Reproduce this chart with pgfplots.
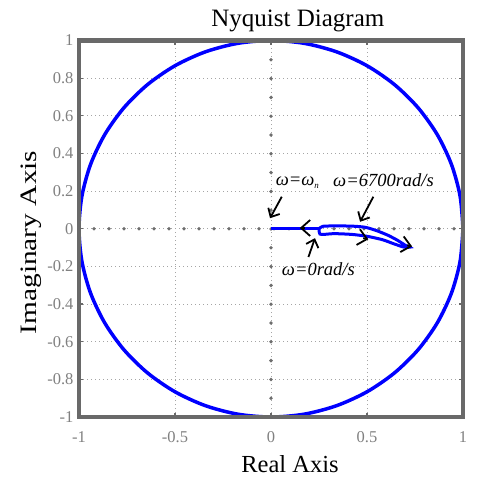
\documentclass[border=0pt]{standalone}
\usepackage{pgfplots}
\pgfplotsset{compat=1.18}
\usepackage{fontspec}
\setmainfont{Liberation Serif}
\usetikzlibrary{arrows.meta}
\definecolor{boxgray}{RGB}{105,105,105}
\definecolor{tickgray}{RGB}{128,128,128}
\definecolor{gridgray}{RGB}{165,165,165}
\definecolor{zerogray}{RGB}{110,110,110}
\begin{document}
\begin{tikzpicture}
\useasboundingbox (-79pt,-60pt) rectangle (399pt,417pt);
\begin{axis}[
  at={(0,0)}, anchor=south west,
  scale only axis, width=384pt, height=376.5pt,
  xmin=-1, xmax=1, ymin=-1, ymax=1,
  clip=false,
  xtick={-1,-0.5,0,0.5,1},
  ytick={-1,-0.8,-0.6,-0.4,-0.2,0,0.2,0.4,0.6,0.8,1},
  /pgf/number format/assume math mode=true,
  ticklabel style={font=\fontsize{16.5}{18}\selectfont, text=tickgray},
  xticklabel style={yshift=-11pt},
  yticklabel style={xshift=-2pt},
  tick align=inside, major tick length=4pt,
  tick style={boxgray, line width=1.2pt},
  grid=major,
  grid style={gridgray, line width=0.9pt, dash pattern=on 1pt off 3pt},
  axis line style={draw=none},
]
% zero lines (big dots)
\draw[zerogray, line width=3.8pt, line cap=round, dash pattern=on 0pt off 15pt] (axis cs:-1,0) -- (axis cs:1,0);
\draw[zerogray, line width=3.8pt, line cap=round, dash pattern=on 0pt off 18.8pt] (axis cs:0,-1) -- (axis cs:0,1);
% unit circle
\addplot[blue, line width=3.5pt, smooth] coordinates {
(1,0) (0.9848,0.1736) (0.9397,0.3420) (0.8660,0.5) (0.7660,0.6428) (0.6428,0.7660)
(0.5,0.8660) (0.3420,0.9397) (0.1736,0.9848) (0,1) (-0.1736,0.9848) (-0.3420,0.9397)
(-0.5,0.8660) (-0.6428,0.7660) (-0.7660,0.6428) (-0.8660,0.5) (-0.9397,0.3420) (-0.9848,0.1736)
(-1,0) (-0.9848,-0.1736) (-0.9397,-0.3420) (-0.8660,-0.5) (-0.7660,-0.6428) (-0.6428,-0.7660)
(-0.5,-0.8660) (-0.3420,-0.9397) (-0.1736,-0.9848) (0,-1) (0.1736,-0.9848) (0.3420,-0.9397)
(0.5,-0.8660) (0.6428,-0.7660) (0.7660,-0.6428) (0.8660,-0.5) (0.9397,-0.3420) (0.9848,-0.1736) (1,0)
};
% Nyquist curve
\addplot[blue, line width=3pt] coordinates {(0,0) (0.25,0)};
\addplot[blue, line width=3pt, smooth, tension=0.4] coordinates {
(0.25,0) (0.27,0.013) (0.33,0.015) (0.42,0.014) (0.49,0.008) (0.55,-0.01) (0.61,-0.035)
(0.66,-0.062) (0.70,-0.088) (0.72,-0.098) (0.69,-0.097) (0.64,-0.08) (0.58,-0.058)
(0.50,-0.04) (0.42,-0.03) (0.33,-0.026) (0.275,-0.03) (0.255,-0.028) (0.25,-0.01) (0.25,0)
};
% direction chevrons
\addplot[black, line width=1.8pt, -{Straight Barb[length=9pt,width=16pt]}] coordinates {(0.175,0.004) (0.150,0.004)};
\addplot[black, line width=1.8pt, -{Straight Barb[length=9pt,width=16pt]}] coordinates {(0.48,-0.050) (0.507,-0.056)};
\addplot[black, line width=1.8pt, -{Straight Barb[length=9pt,width=16pt]}] coordinates {(0.708,-0.088) (0.735,-0.094)};
% annotation arrows
\addplot[black, line width=1.8pt, -{Straight Barb[length=7pt,width=13pt]}] coordinates {(0.056,0.170) (-0.005,0.056)};
\addplot[black, line width=1.8pt, -{Straight Barb[length=7pt,width=13pt]}] coordinates {(0.533,0.170) (0.464,0.037)};
\addplot[black, line width=1.8pt, -{Straight Barb[length=7pt,width=13pt]}] coordinates {(0.195,-0.150) (0.229,-0.050)};
% annotation texts
\node[anchor=base west, inner sep=0pt, font=\fontsize{18.5}{20}\selectfont\itshape] at (axis cs:0.024,0.229) {ω=ω\textsubscript{\fontsize{9}{10}\selectfont n}};
\node[anchor=base west, inner sep=0pt, font=\fontsize{18.5}{20}\selectfont\itshape] at (axis cs:0.323,0.227) {ω=6700rad/s};
\node[anchor=base west, inner sep=0pt, font=\fontsize{18.5}{20}\selectfont\itshape] at (axis cs:0.056,-0.246) {ω=0rad/s};
% box
\draw[boxgray, line width=4pt] (rel axis cs:0,0) rectangle (rel axis cs:1,1);
% titles
\node[anchor=base, inner sep=0pt, font=\fontsize{25}{28}\selectfont] at (axis cs:0.14,1.076) {Nyquist Diagram};
\node[anchor=base, inner sep=0pt, font=\fontsize{24.5}{28}\selectfont] at (axis cs:0.099,-1.297) {Real Axis};
\node[anchor=base, inner sep=0pt, rotate=90, font=\fontsize{23.5}{28}\selectfont] at (axis cs:-1.219,-0.073) {\scalebox{1.25}[1]{Imaginary Axis}};
\end{axis}
\end{tikzpicture}
\end{document}
